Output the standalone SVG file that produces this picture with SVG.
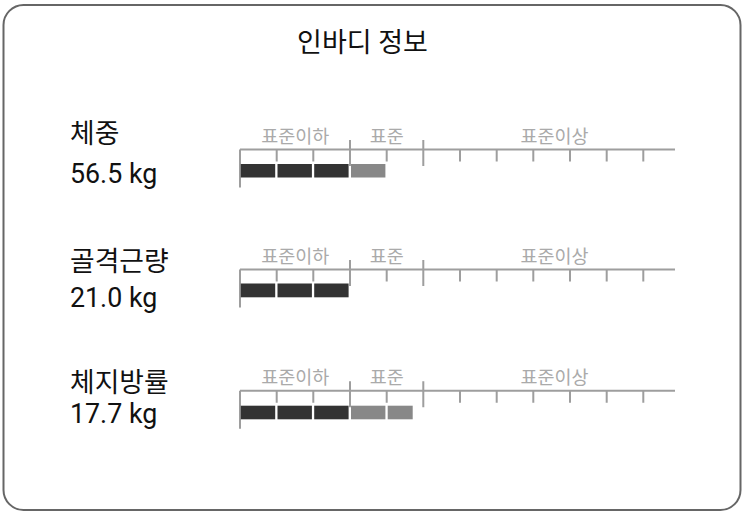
<svg xmlns="http://www.w3.org/2000/svg" width="746" height="515" viewBox="0 0 746 515">
<style>
text{font-family:Roboto,"Noto Sans CJK KR",sans-serif;}
.title{font-size:27px;fill:#111;text-anchor:middle;}
.lbl{font-size:26.8px;fill:#111;}
.val{font-size:26.8px;fill:#111;}
.sc{font-size:18.5px;fill:#aaa;text-anchor:middle;}
.ax{stroke:#9e9e9e;stroke-width:2;fill:none;}
.dk{fill:#333;}
.gr{fill:#888;}
</style>
<defs>
<g id="scale">
<path class="ax" d="M240,0H675M240,0V38M276.7,0V12M313.3,0V12M386.7,0V12M460,0V12M496.7,0V12M533.3,0V12M570,0V12M606.7,0V12M643.3,0V12M350,-9.5V16.5M423.3,-9.5V16.5"/>
<text class="sc" x="295.3" y="-6.5">표준이하</text>
<text class="sc" x="386.7" y="-6.5">표준</text>
<text class="sc" x="554.5" y="-6.5">표준이상</text>
</g>
</defs>
<rect x="3.5" y="5" width="737" height="505" rx="20" fill="#fff" stroke="#666" stroke-width="2"/>
<text id="title" class="title" x="362.5" y="52">인바디 정보</text>
<g id="row-weight">
<text class="lbl" x="70" y="142.5">체중</text>
<text class="val" x="70" y="182.7">56.5 kg</text>
<use href="#scale" y="149.5"/>
<rect class="dk" x="240.8" y="164" width="34.4" height="13.5"/>
<rect class="dk" x="277.5" y="164" width="34.4" height="13.5"/>
<rect class="dk" x="314.2" y="164" width="34.4" height="13.5"/>
<rect class="gr" x="351" y="164" width="34.4" height="13.5"/>
</g>
<g id="row-muscle">
<text class="lbl" x="70" y="270.5">골격근량</text>
<text class="val" x="70" y="306.7">21.0 kg</text>
<use href="#scale" y="269.5"/>
<rect class="dk" x="240.8" y="283.5" width="34.4" height="13.8"/>
<rect class="dk" x="277.5" y="283.5" width="34.4" height="13.8"/>
<rect class="dk" x="314.2" y="283.5" width="34.4" height="13.8"/>
</g>
<g id="row-fat">
<text class="lbl" x="70" y="391.5">체지방률</text>
<text class="val" x="70" y="423.3">17.7 kg</text>
<use href="#scale" y="390.7"/>
<rect class="dk" x="240.8" y="405.7" width="34.4" height="13.6"/>
<rect class="dk" x="277.5" y="405.7" width="34.4" height="13.6"/>
<rect class="dk" x="314.2" y="405.7" width="34.4" height="13.6"/>
<rect class="gr" x="351" y="405.7" width="34.4" height="13.6"/>
<rect class="gr" x="387.7" y="405.7" width="25" height="13.6"/>
</g>
<g id="connectors"/>
</svg>
